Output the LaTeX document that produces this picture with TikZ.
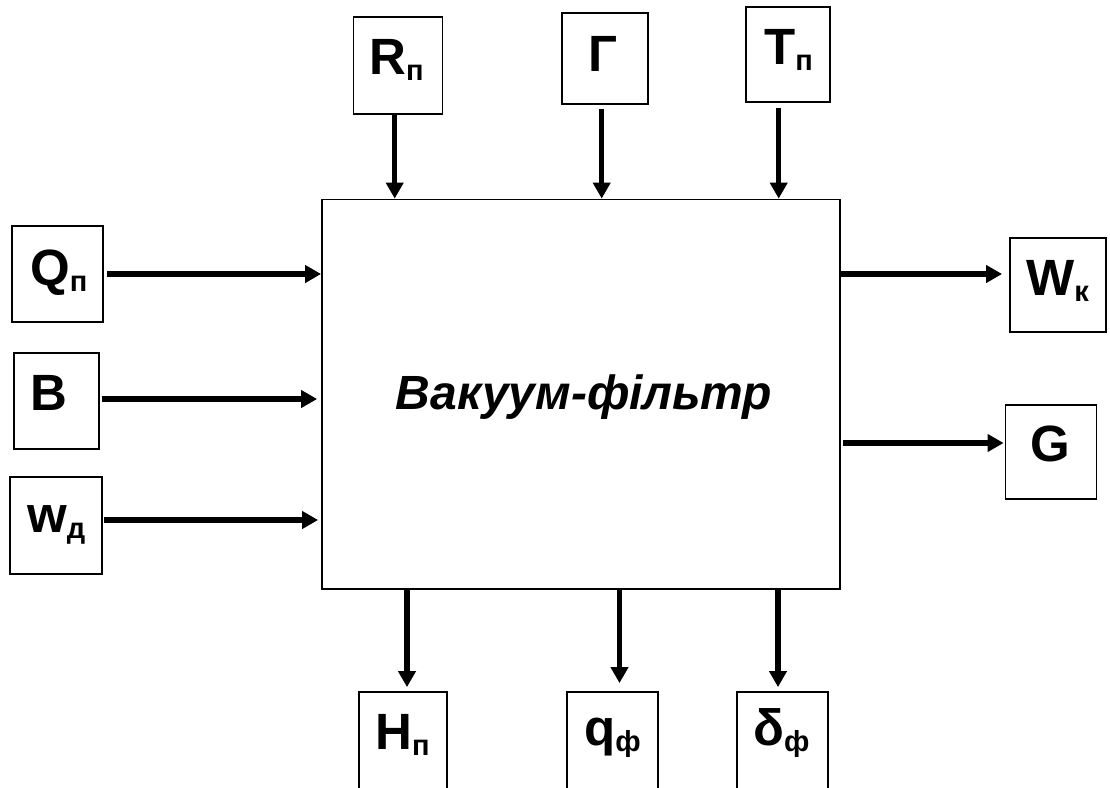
\documentclass[tikz,border=0pt]{standalone}
\usepackage{fontspec}
\setmainfont{Liberation Sans}
\usetikzlibrary{arrows.meta,calc}
\tikzset{
  lbox/.style={draw, line width=1.8pt, inner sep=0pt},
  arr/.style={line width=5.2pt, -{Triangle[length=16pt,width=17pt]}},
  lab/.style={anchor=base west, inner sep=0pt, font=\fontsize{51}{51}\selectfont\bfseries},
}
\newcommand{\subsc}[1]{\raisebox{-6pt}{\fontsize{29}{29}\selectfont #1}}
\begin{document}
\begin{tikzpicture}[x=1pt,y=-1pt]
\useasboundingbox (0,0) rectangle (1110,787);
% main block
\node[lbox, minimum width=518pt, minimum height=389.5pt] (M) at (581,394.25) {};
\node[anchor=base, inner sep=0pt, font=\fontsize{48}{48}\selectfont\bfseries\itshape] (Mt) at (584,409) {Вакуум-фільтр};
% left boxes
\node[lbox, minimum width=91pt, minimum height=96pt] (Q) at (57.5,274) {};
\node[lbox, minimum width=85pt, minimum height=96pt] (B) at (56.5,401) {};
\node[lbox, minimum width=92pt, minimum height=97pt] (Wd) at (56,525.5) {};
% top boxes
\node[lbox, minimum width=89pt, minimum height=97pt] (R) at (398,65.5) {};
\node[lbox, minimum width=86pt, minimum height=91pt] (Gm) at (605,58.5) {};
\node[lbox, minimum width=84pt, minimum height=95pt] (T) at (788,54.5) {};
% right boxes
\node[lbox, minimum width=96pt, minimum height=94pt] (Wk) at (1058,285) {};
\node[lbox, minimum width=91pt, minimum height=94pt] (G) at (1051,452) {};
% bottom boxes
\node[lbox, minimum width=88pt, minimum height=97pt] (H) at (403,740.5) {};
\node[lbox, minimum width=91pt, minimum height=97pt] (qf) at (612.5,740.5) {};
\node[lbox, minimum width=91pt, minimum height=97pt] (df) at (782.5,740.5) {};
% labels
\node[lab] (Qt) at (30,285) {Q\subsc{п}};
\node[lab] (Bt) at (30,410) {B};
\node[lab] (Wdt) at (27,532) {w\subsc{д}};
\node[lab] (Rt) at (369,74) {R\subsc{п}};
\node[lab] (Gmt) at (588,71) {Г};
\node[lab] (Tt) at (764,64) {T\subsc{п}};
\node[lab] (Wkt) at (1026,295) {W\subsc{к}};
\node[lab] (Gt) at (1030,461) {G};
\node[lab] (Ht) at (375,749) {H\subsc{п}};
\node[lab] (qft) at (584,745) {q\subsc{ф}};
\node[lab] (dft) at (753,745) {δ\subsc{ф}};
% attach points
\coordinate (cQ) at (Q.east);
\coordinate (cB) at ([yshift=2pt]B.east);
\coordinate (cWd) at ([yshift=5.5pt]Wd.east);
\coordinate (cR) at ([xshift=-3.3pt]R.south);
\coordinate (cGm) at ([xshift=-3.3pt]Gm.south);
\coordinate (cT) at ([xshift=-9.3pt]T.south);
\coordinate (cWk) at ([yshift=11pt]Wk.west);
\coordinate (cG) at ([yshift=9pt]G.west);
\coordinate (cH) at ([xshift=4pt]H.north);
\coordinate (cqf) at ([xshift=7pt]qf.north);
\coordinate (cdf) at ([xshift=-4.5pt]df.north);
% inputs
\draw[arr, shorten <=3pt] (cQ) -- (cQ -| M.west);
\draw[arr, shorten <=2pt, shorten >=4pt] (cB) -- (cB -| M.west);
\draw[arr, shorten <=1pt, shorten >=3pt] (cWd) -- (cWd -| M.west);
\draw[arr] (cR) -- (cR |- M.north);
\draw[arr, shorten <=4pt] (cGm) -- (cGm |- M.north);
\draw[arr, shorten <=5pt] (cT) -- (cT |- M.north);
% outputs
\draw[arr, shorten >=7pt] (cWk -| M.east) -- (cWk);
\draw[arr, shorten <=2pt, shorten >=1pt] (cG -| M.east) -- (cG);
\draw[arr, shorten >=4pt] (cH |- M.south) -- (cH);
\draw[arr, shorten >=8pt] (cqf |- M.south) -- (cqf);
\draw[arr, shorten >=4pt] (cdf |- M.south) -- (cdf);
\end{tikzpicture}
\end{document}
